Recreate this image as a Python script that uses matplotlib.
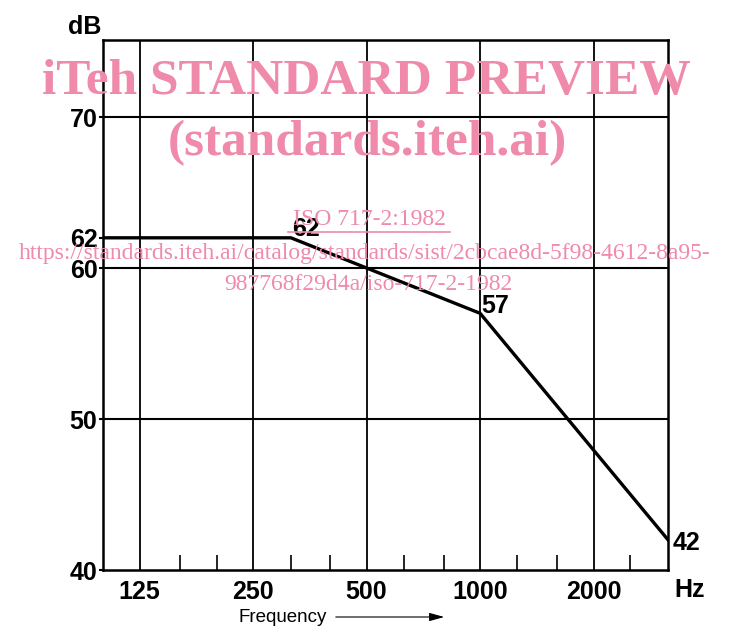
import numpy as np
import matplotlib
matplotlib.use('Agg')
import matplotlib.pyplot as plt

# reference curve (ISO 717-2 style)
freq = [100, 315, 1000, 3150]
level = [62, 62, 57, 42]
point_labels = ['62', '57', '42']

major_freq = [125, 250, 500, 1000, 2000]
minor_freq = [160, 200, 315, 400, 630, 800, 1250, 1600, 2500]
ytick_vals = [40, 50, 60, 62, 70]
grid_y = [50, 60, 70]

pink = '#ef8aaa'
plt.rcParams['font.family'] = ['Liberation Sans Narrow', 'Liberation Sans', 'DejaVu Sans']
plt.rcParams['font.weight'] = 'bold'
fs = 18

fig = plt.figure(figsize=(7.29, 6.28), dpi=100)
ax = fig.add_axes([103 / 729, 58 / 628, 565 / 729, 530 / 628])
ax.set_xscale('log')
ax.set_xlim(100, 3150)
ax.set_ylim(40, 75.1)

for f in major_freq:
    ax.axvline(f, color='black', lw=1.3, zorder=1)
for y in grid_y:
    ax.axhline(y, color='black', lw=1.5, zorder=1)

ax.plot(freq, level, color='black', lw=2.4, solid_joinstyle='miter', zorder=3)

for s in ax.spines.values():
    s.set_linewidth(1.8)

ax.set_xticks(major_freq)
ax.set_xticklabels([str(f) for f in major_freq])
ax.set_xticks(minor_freq, minor=True)
ax.xaxis.set_minor_formatter(matplotlib.ticker.NullFormatter())
ax.tick_params(axis='x', which='major', length=0, pad=7, labelsize=fs)
ax.tick_params(axis='x', which='minor', direction='in', length=11, width=1.2)
ax.set_yticks(ytick_vals)
ax.set_yticklabels([str(v) for v in ytick_vals])
ax.tick_params(axis='y', length=3, width=1.5, pad=1, labelsize=fs)

# point labels
ax.annotate(point_labels[0], (freq[1], level[1]), xytext=(1, -2),
            textcoords='offset points', fontsize=fs, ha='left', va='bottom')
ax.annotate(point_labels[1], (freq[2], level[2]), xytext=(1, 5),
            textcoords='offset points', fontsize=fs, ha='left', va='center')
ax.annotate(point_labels[2], (freq[3], level[3]), xytext=(3, -2),
            textcoords='offset points', fontsize=fs, ha='left', va='center')

fig.text(85 / 729, 1 - 27 / 628, 'dB', fontsize=fs, ha='center', va='center')
fig.text(690 / 729, 1 - 590 / 628, 'Hz', fontsize=fs, ha='center', va='center')
fig.text(239 / 729, 1 - 618 / 628, 'Frequency', fontsize=13.5, fontweight='normal',
         family=['Liberation Sans', 'DejaVu Sans'], ha='left', va='center')
fig.patches.append(matplotlib.patches.FancyArrowPatch(
    (333 / 729, 1 - 617 / 628), (447 / 729, 1 - 617 / 628),
    transform=fig.transFigure, arrowstyle='-|>,head_length=9,head_width=2.5',
    color='black', lw=0.8, mutation_scale=1))

# watermark
serif = ['Liberation Serif', 'DejaVu Serif']
fig.text(366 / 729, 1 - 82 / 628, 'iTeh STANDARD PREVIEW', fontsize=37,
         fontweight='bold', family=serif, color=pink, ha='center', va='center', zorder=10)
fig.text(367 / 729, 1 - 143 / 628, '(standards.iteh.ai)', fontsize=37,
         fontweight='bold', family=serif, color=pink, ha='center', va='center', zorder=10)
fig.text(369 / 729, 1 - 220 / 628, 'ISO 717-2:1982', fontsize=17, fontweight='normal',
         family=serif, color=pink, ha='center', va='center', zorder=10)
fig.add_artist(matplotlib.lines.Line2D([288 / 729, 450 / 729], [1 - 232 / 628, 1 - 232 / 628],
                                       color=pink, lw=1.2))
fig.text(365 / 729, 1 - 253 / 628,
         'https://standards.iteh.ai/catalog/standards/sist/2cbcae8d-5f98-4612-8a95-',
         fontsize=17, fontweight='normal', family=serif, color=pink,
         ha='center', va='center', zorder=10)
fig.text(368 / 729, 1 - 285 / 628, '987768f29d4a/iso-717-2-1982', fontsize=17,
         fontweight='normal', family=serif, color=pink, ha='center', va='center', zorder=10)

fig.savefig('out.png', dpi=100)
